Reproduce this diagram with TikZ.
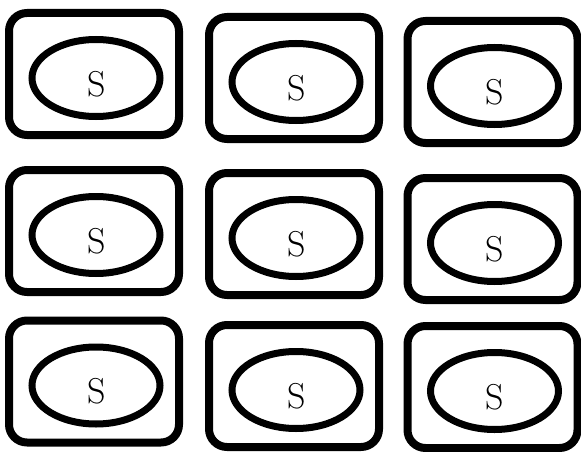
\documentclass[tikz,border=0pt]{standalone}
\usepackage{tikz}
\usetikzlibrary{shapes.geometric, calc}

\tikzset{
  cell/.style={draw=black, line width=8pt, rounded corners=18pt,
    minimum width=170pt, minimum height=122pt, inner sep=0pt},
  oval/.style={draw=black, ellipse, line width=7pt,
    minimum width=128pt, minimum height=77pt, inner sep=0pt},
  letter/.style={font=\fontsize{36}{40}\selectfont, inner sep=0pt}
}

\begin{document}
\begin{tikzpicture}[x=1pt,y=-1pt]
    \useasboundingbox (0,0) rectangle (581,452);

    % boxes, ovals and letters
    \foreach \n/\x/\y in {11/94/74, 12/294/78, 13/492.5/82,
                          21/94/231, 22/294/234, 23/492.5/239,
                          31/94/381.5, 32/294/386, 33/492.5/387} {
      \node[cell] (box\n) at (\x,\y) {};
      \node[oval] (oval\n) at ([shift={(2,4)}]box\n.center) {};
      \node[letter] (s\n) at ([shift={(0.5,6)}]oval\n.center) {S};
    }
  \end{tikzpicture}
\end{document}
